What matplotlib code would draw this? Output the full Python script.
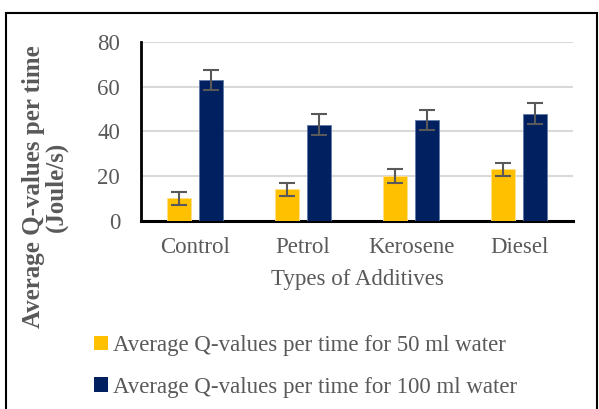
import matplotlib
matplotlib.use("Agg")
import matplotlib.pyplot as plt
from matplotlib.patches import Rectangle, Patch
import numpy as np

categories = ["Control", "Petrol", "Kerosene", "Diesel"]
q50 = [10, 14, 20, 23]
q50_err = [3, 3, 3, 3]
q100 = [63, 43, 45, 48]
q100_err = [4.6, 4.7, 4.5, 4.7]
series_labels = ["Average Q-values per time for 50 ml water",
                 "Average Q-values per time for 100 ml water"]
yticks = [0, 20, 40, 60, 80]

TXT = "#595959"
YEL = "#FFC000"
NAVY = "#002060"
FONT = ["Liberation Serif", "DejaVu Serif"]
plt.rcParams["font.family"] = FONT
FS = 16.5

fig = plt.figure(figsize=(5.99, 4.09), dpi=100)
ax = fig.add_axes([141/599, 1-220.7/409, 432/599, 178.4/409])

x = np.arange(len(categories))
w = 0.222
off = 0.145
ax.bar(x - off, q50, w, color=YEL, edgecolor="#FFE08A", linewidth=0.6, zorder=3)
ax.bar(x + off, q100, w, color=NAVY, edgecolor="#5F7AA8", linewidth=0.6, zorder=3)
ax.errorbar(x - off, q50, yerr=q50_err, fmt="none", ecolor="#595959",
            elinewidth=1.5, capsize=5.5, capthick=1.5, zorder=4)
ax.errorbar(x + off, q100, yerr=q100_err, fmt="none", ecolor="#595959",
            elinewidth=1.5, capsize=5.5, capthick=1.5, zorder=4)

ax.set_xlim(-0.5, len(categories) - 0.5)
ax.set_ylim(0, 80)
ax.set_yticks(yticks)
ax.set_yticklabels([str(v) for v in yticks], fontsize=FS, color=TXT)
ax.set_xticks(x)
ax.set_xticklabels(categories, fontsize=FS, color=TXT)
ax.tick_params(axis="both", length=0)
ax.tick_params(axis="y", pad=15)
ax.tick_params(axis="x", pad=12)
ax.grid(axis="y", color="#D9D9D9", linewidth=1.5, zorder=0)
ax.set_axisbelow(True)
for s in ["top", "right"]:
    ax.spines[s].set_visible(False)
ax.spines["left"].set_linewidth(2)
ax.spines["bottom"].set_linewidth(2.2)
ax.spines["left"].set_color("black")
ax.spines["bottom"].set_color("black")

fig.text(357/599, 1-280/409, "Types of Additives", ha="center", va="center",
         fontsize=FS, color=TXT)
fig.text(45/599, 1-187/409, "Average Q-values per time\n(Joule/s)", rotation=90,
         ha="center", va="center", fontsize=18, fontweight="bold", color=TXT,
         linespacing=1.0)

handles = [Patch(facecolor=YEL), Patch(facecolor=NAVY)]
fig.legend(handles, series_labels, loc="upper left",
           bbox_to_anchor=(94/599, 1-335/409), frameon=False, fontsize=FS,
           labelcolor=TXT, handlelength=0.6, handleheight=0.6,
           handletextpad=0.25, labelspacing=0.9, borderaxespad=0, borderpad=0)

fig.patches.append(Rectangle((6/599, -0.1), 591/599, 1.1 - 13/409,
                             transform=fig.transFigure, fill=False,
                             edgecolor="black", linewidth=1.5))

fig.savefig("out.png", dpi=100)
